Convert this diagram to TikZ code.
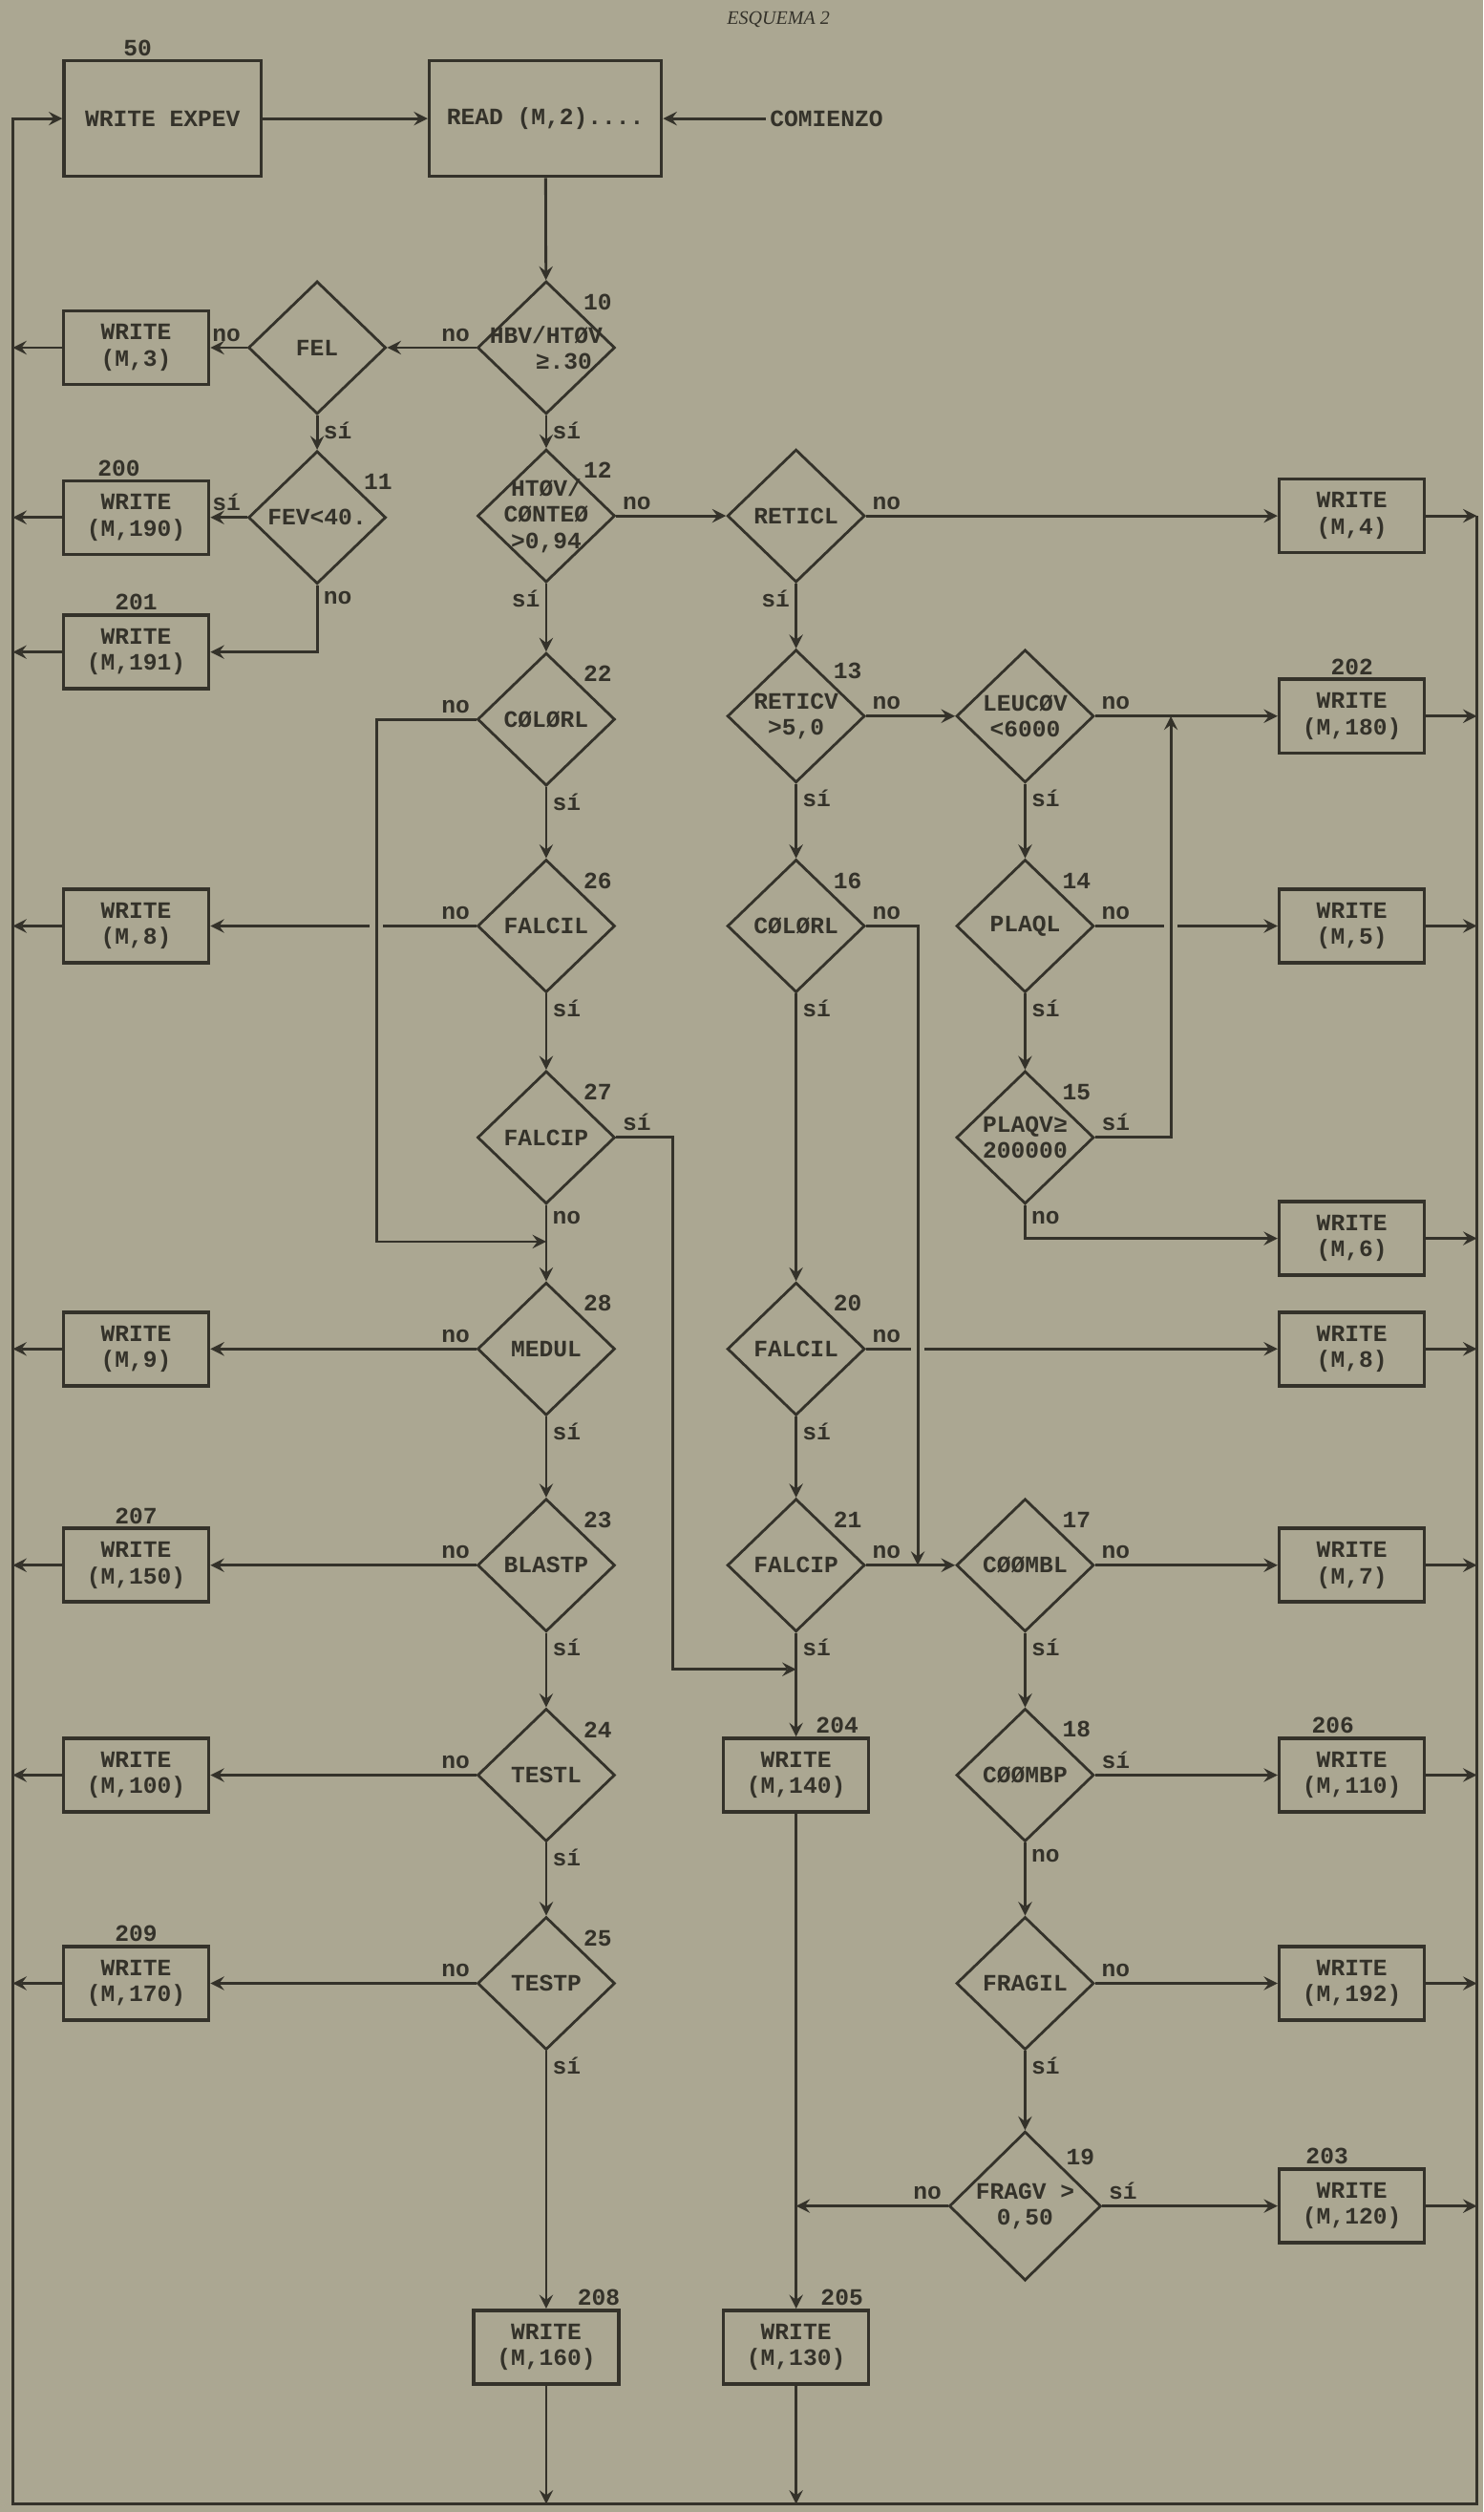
\documentclass[tikz,border=0pt]{standalone}
\usepackage{fontspec}
\setmainfont{Liberation Serif}
\setmonofont{Liberation Mono}
\usetikzlibrary{arrows,shapes.geometric}

\definecolor{paper}{RGB}{171,167,146}
\definecolor{ink}{RGB}{52,50,42}

\begin{document}
\begin{tikzpicture}[
  x=0.01677cm, y=-0.01677cm,
  line width=0.8pt,
  every node/.style={font=\ttfamily\bfseries\fontsize{7}{7.8}\selectfont, text=ink, inner sep=1pt},
  box/.style={rectangle, draw=ink, line width=1pt, minimum width=1.52cm, minimum height=0.77cm, align=center},
  dec/.style={diamond, draw=ink, minimum width=1.44cm, minimum height=1.39cm, inner sep=0pt},
  dtxt/.style={align=center},
  num/.style={inner sep=0.5pt},
  yn/.style={inner sep=1.5pt},
  flow/.style={draw=ink, ->, >=stealth},
  line/.style={draw=ink}
]
\fill[paper] (0,0) rectangle (926,1568);
\useasboundingbox (0,0) rectangle (926,1568);

\node[font=\rmfamily\itshape\fontsize{5.7}{7}\selectfont] (title) at (486,12) {ESQUEMA 2};

% top row
\node[box, minimum width=2.06cm, minimum height=1.21cm, label={[num,xshift=-0.26cm]north:50}] (expev) at (101.5,74) {WRITE EXPEV};
\node[box, minimum width=2.43cm, minimum height=1.21cm] (read) at (340.5,74) {READ (M,2)....};
\node (comienzo) at (516,74) {COMIENZO};

% decisions
\node[dec, label={[dtxt]center:FEL}] (fel) at (198,217) {};
\node[dec, label={[dtxt]center:FEV<40.}, label={[num]30:11}] (d11) at (198,323) {};
\node[dec, label={[dtxt]center:{HBV/HTØV\\\hspace*{1.5em}≥.30}}, label={[num]45:10}] (d10) at (341,217) {};
\node[dec, label={[dtxt]center:{HTØV/\\CØNTEØ\\>0,94}}, label={[num]45:12}] (d12) at (341,322) {};
\node[dec, label={[dtxt]center:CØLØRL}, label={[num]45:22}] (d22) at (341,449) {};
\node[dec, label={[dtxt]center:FALCIL}, label={[num]45:26}] (d26) at (341,578) {};
\node[dec, label={[dtxt]center:FALCIP}, label={[num]45:27}] (d27) at (341,710) {};
\node[dec, label={[dtxt]center:MEDUL}, label={[num]45:28}] (d28) at (341,842) {};
\node[dec, label={[dtxt]center:BLASTP}, label={[num]45:23}] (d23) at (341,977) {};
\node[dec, label={[dtxt]center:TESTL}, label={[num]45:24}] (d24) at (341,1108) {};
\node[dec, label={[dtxt]center:TESTP}, label={[num]45:25}] (d25) at (341,1238) {};

\node[dec, label={[dtxt]center:RETICL}] (reticl) at (497,322) {};
\node[dec, label={[dtxt]center:{RETICV\\>5,0}}, label={[num]45:13}] (d13) at (497,447) {};
\node[dec, label={[dtxt]center:CØLØRL}, label={[num]45:16}] (d16) at (497,578) {};
\node[dec, label={[dtxt]center:FALCIL}, label={[num]45:20}] (d20) at (497,842) {};
\node[dec, label={[dtxt]center:FALCIP}, label={[num]45:21}] (d21) at (497,977) {};

\node[dec, label={[dtxt]center:{LEUCØV\\<6000}}] (leuc) at (640,447) {};
\node[dec, label={[dtxt]center:PLAQL}, label={[num]45:14}] (d14) at (640,578) {};
\node[dec, label={[dtxt]center:{PLAQV≥\\200000}}, label={[num]45:15}] (d15) at (640,710) {};
\node[dec, label={[dtxt]center:CØØMBL}, label={[num]45:17}] (d17) at (640,977) {};
\node[dec, label={[dtxt]center:CØØMBP}, label={[num]45:18}] (d18) at (640,1108) {};
\node[dec, label={[dtxt]center:FRAGIL}] (fragil) at (640,1238) {};
\node[dec, minimum width=1.59cm, minimum height=1.56cm, label={[dtxt]center:{FRAGV >\\0,50}}, label={[num]45:19}] (d19) at (640,1377) {};

% WRITE boxes, left
\node[box] (w3) at (85,217) {WRITE\\(M,3)};
\node[box, label={[num,xshift=-0.18cm]north:200}] (w190) at (85,323) {WRITE\\(M,190)};
\node[box, label={[num]north:201}] (w191) at (85,407) {WRITE\\(M,191)};
\node[box] (w8a) at (85,578) {WRITE\\(M,8)};
\node[box] (w9) at (85,842) {WRITE\\(M,9)};
\node[box, label={[num]north:207}] (w150) at (85,977) {WRITE\\(M,150)};
\node[box] (w100) at (85,1108) {WRITE\\(M,100)};
\node[box, label={[num]north:209}] (w170) at (85,1238) {WRITE\\(M,170)};

% WRITE boxes, middle
\node[box, label={[num,xshift=0.43cm]north:204}] (w140) at (497,1108) {WRITE\\(M,140)};
\node[box, label={[num,xshift=0.55cm]north:208}] (w160) at (341,1465) {WRITE\\(M,160)};
\node[box, label={[num,xshift=0.48cm]north:205}] (w130) at (497,1465) {WRITE\\(M,130)};

% WRITE boxes, right
\node[box] (w4) at (844,322) {WRITE\\(M,4)};
\node[box, label={[num]north:202}] (w180) at (844,447) {WRITE\\(M,180)};
\node[box] (w5) at (844,578) {WRITE\\(M,5)};
\node[box] (w6) at (844,773) {WRITE\\(M,6)};
\node[box] (w8b) at (844,842) {WRITE\\(M,8)};
\node[box] (w7) at (844,977) {WRITE\\(M,7)};
\node[box, label={[num,xshift=-0.2cm]north:206}] (w110) at (844,1108) {WRITE\\(M,110)};
\node[box] (w192) at (844,1238) {WRITE\\(M,192)};
\node[box, label={[num,xshift=-0.26cm]north:203}] (w120) at (844,1377) {WRITE\\(M,120)};

% rails and joints
\coordinate (railL) at (8,74);
\coordinate (railR) at (922,322);
\coordinate (base) at (8,1563);
\coordinate (k22) at (235,449);
\coordinate (j28) at (341,775);
\coordinate (j204) at (497,1042);
\coordinate (j17) at (573,977);
\coordinate (j180) at (731,447);

\draw[flow] (railR) -- (railR |- base) -- (base) -- (railL) -- (expev.west);
\foreach \b in {w3,w190,w191,w8a,w9,w150,w100,w170}
  \draw[flow] (\b.west) -- (\b.west -| railL);
\foreach \b in {w4,w180,w5,w6,w8b,w7,w110,w192,w120}
  \draw[flow] (\b.east) -- (\b.east -| railR);
\foreach \b in {w160,w130}
  \draw[flow] (\b.south) -- (\b.south |- base);

% top
\draw[flow] (comienzo) -- (read);
\draw[flow] (expev) -- (read);
\draw[flow] (read) -- (d10);

% left branch
\draw[flow] (d10.west) -- node[yn, at start, above left] {no} (fel.east);
\draw[flow] (fel.west) -- node[yn, at start, above left] {no} (w3.east);
\draw[flow] (fel.south) -- node[yn, at start, below right] {sí} (d11.north);
\draw[flow] (d11.west) -- node[yn, at start, above left] {sí} (w190.east);
\draw[flow] (d11.south) |- node[yn, at start, below right] {no} (w191.east);

% column 2
\draw[flow] (d10.south) -- node[yn, at start, below right] {sí} (d12.north);
\draw[flow] (d12.east) -- node[yn, at start, above right] {no} (reticl.west);
\draw[flow] (d12.south) -- node[yn, at start, below left] {sí} (d22.north);
\draw[flow] (d22.west) -- node[yn, at start, above left] {no} (k22) |- (j28);
\draw[flow] (d22.south) -- node[yn, at start, below right] {sí} (d26.north);
\draw[line] (d26.west) -- node[yn, at start, above left] {no} ([xshift=2pt]d26.west -| k22);
\draw[flow] ([xshift=-2pt]d26.west -| k22) -- (w8a.east);
\draw[flow] (d26.south) -- node[yn, at start, below right] {sí} (d27.north);
\draw[flow] (d27.east) -- node[yn, at start, above right] {sí} ++(35,0) |- (j204);
\draw[flow] (d27.south) -- node[yn, at start, below right] {no} (d28.north);
\draw[flow] (d28.west) -- node[yn, at start, above left] {no} (w9.east);
\draw[flow] (d28.south) -- node[yn, at start, below right] {sí} (d23.north);
\draw[flow] (d23.west) -- node[yn, at start, above left] {no} (w150.east);
\draw[flow] (d23.south) -- node[yn, at start, below right] {sí} (d24.north);
\draw[flow] (d24.west) -- node[yn, at start, above left] {no} (w100.east);
\draw[flow] (d24.south) -- node[yn, at start, below right] {sí} (d25.north);
\draw[flow] (d25.west) -- node[yn, at start, above left] {no} (w170.east);
\draw[flow] (d25.south) -- node[yn, at start, below right] {sí} (w160.north);

% column 3
\draw[flow] (reticl.east) -- node[yn, at start, above right] {no} (w4.west);
\draw[flow] (reticl.south) -- node[yn, at start, below left] {sí} (d13.north);
\draw[flow] (d13.east) -- node[yn, at start, above right] {no} (leuc.west);
\draw[flow] (d13.south) -- node[yn, at start, below right] {sí} (d16.north);
\draw[flow] (d16.east) -| node[yn, at start, above right] {no} (j17);
\draw[flow] (d16.south) -- node[yn, at start, below right] {sí} (d20.north);
\draw[line] (d20.east) -- node[yn, at start, above right] {no} ([xshift=-2pt]d20.east -| j17);
\draw[flow] ([xshift=2pt]d20.east -| j17) -- (w8b.west);
\draw[flow] (d20.south) -- node[yn, at start, below right] {sí} (d21.north);
\draw[flow] (d21.east) -- node[yn, at start, above right] {no} (d17.west);
\draw[flow] (d21.south) -- node[yn, at start, below right] {sí} (w140.north);
\draw[flow] (w140.south) -- (w130.north);

% column 4
\draw[flow] (leuc.east) -- node[yn, at start, above right] {no} (w180.west);
\draw[flow] (leuc.south) -- node[yn, at start, below right] {sí} (d14.north);
\draw[line] (d14.east) -- node[yn, at start, above right] {no} ([xshift=-2pt]d14.east -| j180);
\draw[flow] ([xshift=2pt]d14.east -| j180) -- (w5.west);
\draw[flow] (d14.south) -- node[yn, at start, below right] {sí} (d15.north);
\draw[flow] (d15.east) -| node[yn, at start, above right] {sí} (j180);
\draw[flow] (d15.south) |- node[yn, at start, below right] {no} (w6.west);
\draw[flow] (d17.east) -- node[yn, at start, above right] {no} (w7.west);
\draw[flow] (d17.south) -- node[yn, at start, below right] {sí} (d18.north);
\draw[flow] (d18.east) -- node[yn, at start, above right] {sí} (w110.west);
\draw[flow] (d18.south) -- node[yn, at start, below right] {no} (fragil.north);
\draw[flow] (fragil.east) -- node[yn, at start, above right] {no} (w192.west);
\draw[flow] (fragil.south) -- node[yn, at start, below right] {sí} (d19.north);
\draw[flow] (d19.east) -- node[yn, at start, above right] {sí} (w120.west);
\draw[flow] (d19.west) -- node[yn, at start, above left] {no} (d19.west -| w140.south);

\end{tikzpicture}
\end{document}
